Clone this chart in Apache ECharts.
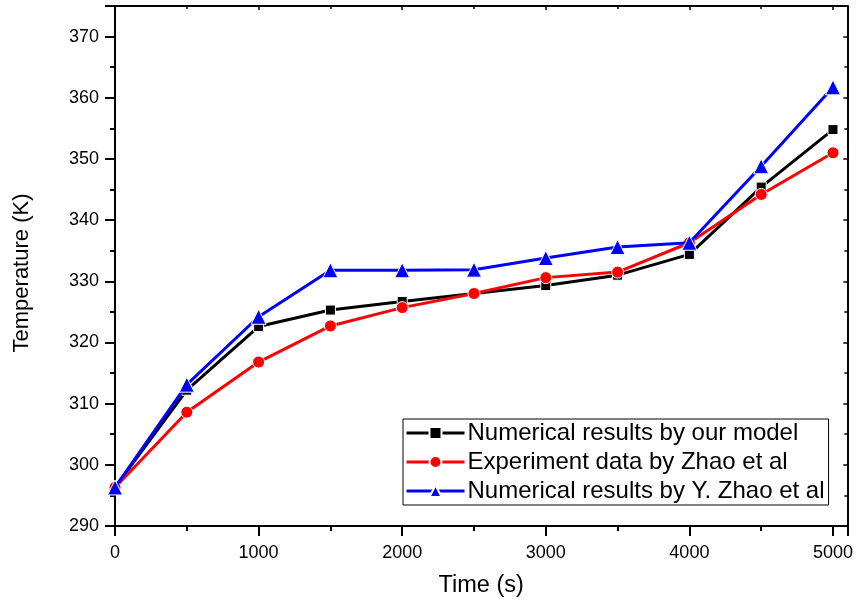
<!DOCTYPE html>
<html><head><meta charset="utf-8">
<script src="https://cdn.jsdelivr.net/npm/echarts@6/dist/echarts.min.js"></script>
<style>html,body{margin:0;padding:0;background:#fff}#c{width:856px;height:604px}</style>
</head><body><div id="c"></div>
<script>
var times = [0, 500, 1000, 1500, 2000, 2500, 3000, 3500, 4000, 4500, 5000];
var ourModel = [296.3, 312.2, 322.6, 325.3, 326.7, 328.0, 329.3, 331.0, 334.4, 345.4, 354.8];
var experiment = [296.3, 308.6, 316.8, 322.7, 325.7, 328.0, 330.6, 331.5, 336.3, 344.2, 351.0];
var yZhao = [296.3, 313.1, 324.2, 331.8, 331.8, 331.9, 333.8, 335.6, 336.3, 348.8, 361.7];
var seriesNames = ['Numerical results by our model', 'Experiment data by Zhao et al', 'Numerical results by Y. Zhao et al'];
var seriesColors = ['#000000', '#ff0000', '#0000ff'];
var seriesSymbols = ['rect', 'circle', 'triangle'];
var symbolSizes = [10, 12, 15];
var seriesData = [ourModel, experiment, yZhao];

var font = 'Liberation Sans, Arial, sans-serif';
var chart = echarts.init(document.getElementById('c'), null, {renderer: 'canvas'});
var axisCommon = {
  axisLine: {show: true, onZero: false, lineStyle: {color: '#000', width: 2}},
  splitLine: {show: false}
};
chart.setOption({
  animation: false,
  backgroundColor: '#fff',
  textStyle: {fontFamily: font},
  grid: {left: 115, top: 6, right: 8, bottom: 78},
  legend: {
    orient: 'vertical', left: 403, top: 419,
    padding: [2, 4, 2, 2], itemGap: 5, itemWidth: 58, itemHeight: 15,
    borderColor: '#000', borderWidth: 1, backgroundColor: '#fff',
    lineStyle: {width: 3},
    textStyle: {fontFamily: font, fontSize: 24, color: '#000', padding: [0, 0, 0, -2]},
    data: seriesNames
  },
  xAxis: [
    Object.assign({}, axisCommon, {
      type: 'value', min: 0, max: 5100, interval: 1000, position: 'bottom',
      name: 'Time (s)', nameLocation: 'middle', nameGap: 48,
      nameTextStyle: {fontSize: 23.5, color: '#000', fontFamily: font},
      axisTick: {show: true, inside: false, length: 10, lineStyle: {width: 2, color: '#000'}},
      minorTick: {show: true, splitNumber: 2, length: 5, lineStyle: {width: 2, color: '#000'}},
      axisLabel: {fontSize: 18, color: '#000', margin: 18, fontFamily: font,
        formatter: function (v) { return v > 5000 ? '' : String(v); }}
    }),
    Object.assign({}, axisCommon, {
      type: 'value', min: 0, max: 5100, interval: 1000, position: 'top',
      axisTick: {show: true, inside: true, length: 4, lineStyle: {width: 1.5, color: '#000'}},
      minorTick: {show: true, splitNumber: 2, length: 3, lineStyle: {width: 1.5, color: '#000'}},
      axisLabel: {show: false}
    })
  ],
  yAxis: [
    Object.assign({}, axisCommon, {
      type: 'value', min: 290, max: 375, interval: 10, position: 'left',
      name: 'Temperature (K)', nameLocation: 'middle', nameGap: 82,
      nameTextStyle: {fontSize: 22, color: '#000', fontFamily: font, padding: [0, 14, 0, 0]},
      axisTick: {show: true, inside: false, length: 10, lineStyle: {width: 2, color: '#000'}},
      minorTick: {show: true, splitNumber: 2, length: 5, lineStyle: {width: 2, color: '#000'}},
      axisLabel: {fontSize: 18, color: '#000', margin: 16, fontFamily: font,
        formatter: function (v) { return v > 370 ? '' : String(v); }}
    }),
    Object.assign({}, axisCommon, {
      type: 'value', min: 290, max: 375, interval: 10, position: 'right',
      axisTick: {show: true, inside: true, length: 4, lineStyle: {width: 1.5, color: '#000'}},
      minorTick: {show: true, splitNumber: 2, length: 3, lineStyle: {width: 1.5, color: '#000'}},
      axisLabel: {show: false}
    })
  ],
  series: seriesNames.map(function (name, i) {
    return {
      name: name, type: 'line', xAxisIndex: 0, yAxisIndex: 0,
      data: times.map(function (t, j) { return [t, seriesData[i][j]]; }),
      symbol: seriesSymbols[i], symbolSize: symbolSizes[i], showAllSymbol: true,
      lineStyle: {color: seriesColors[i], width: 3},
      itemStyle: {color: seriesColors[i], borderColor: '#fff', borderWidth: 1},
      z: 2 + i
    };
  })
});
</script></body></html>
